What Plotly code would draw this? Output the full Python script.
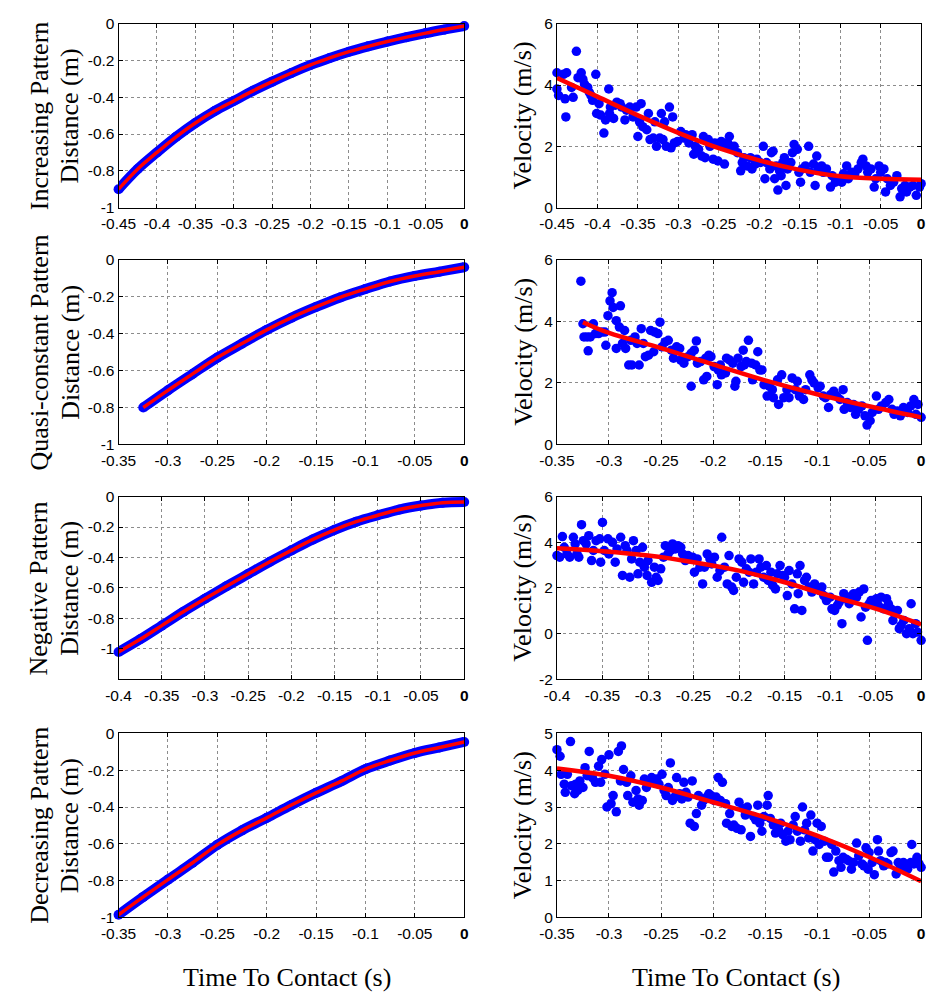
import plotly.graph_objects as go

# ---------------- data ----------------
# Distance curves (time to contact in s, distance in m)
INC_D_T = [-0.45, -0.425, -0.40, -0.375, -0.35, -0.325, -0.30, -0.275, -0.25, -0.225,
           -0.20, -0.175, -0.15, -0.125, -0.10, -0.075, -0.05, -0.025, 0.0]
INC_D = [-0.90, -0.79, -0.70, -0.615, -0.54, -0.475, -0.42, -0.365, -0.315, -0.268,
         -0.224, -0.186, -0.152, -0.123, -0.097, -0.073, -0.051, -0.031, -0.012]

QC_D_T = [-0.325, -0.30, -0.275, -0.25, -0.225, -0.20, -0.175, -0.15, -0.125, -0.10,
          -0.075, -0.05, -0.025, 0.0]
QC_D = [-0.80, -0.707, -0.618, -0.530, -0.454, -0.380, -0.314, -0.256, -0.203, -0.159,
        -0.118, -0.088, -0.065, -0.041]

NEG_D_T = [-0.40, -0.375, -0.35, -0.325, -0.30, -0.275, -0.25, -0.225, -0.20, -0.175,
           -0.15, -0.125, -0.10, -0.075, -0.05, -0.025, 0.0]
NEG_D = [-1.02, -0.937, -0.847, -0.756, -0.671, -0.588, -0.508, -0.428, -0.353, -0.281,
         -0.218, -0.165, -0.123, -0.085, -0.059, -0.040, -0.036]

DEC_D_T = [-0.35, -0.325, -0.30, -0.275, -0.25, -0.225, -0.20, -0.175, -0.15, -0.125,
           -0.10, -0.075, -0.05, -0.025, 0.0]
DEC_D = [-0.986, -0.889, -0.795, -0.703, -0.606, -0.527, -0.459, -0.389, -0.323, -0.261,
         -0.194, -0.147, -0.106, -0.076, -0.046]

# Velocity samples (time to contact in s, velocity in m/s)
INC_V_T = [-0.450, -0.450, -0.448, -0.442, -0.440, -0.438, -0.439, -0.432, -0.430, -0.426,
           -0.424, -0.420, -0.418, -0.416, -0.412, -0.410, -0.408, -0.406, -0.402, -0.401,
           -0.398, -0.396, -0.392, -0.390, -0.386, -0.385, -0.384, -0.380, -0.378, -0.376,
           -0.372, -0.370, -0.366, -0.364, -0.360, -0.356, -0.352, -0.350, -0.348, -0.346,
           -0.344, -0.339, -0.337, -0.335, -0.331, -0.329, -0.327, -0.323, -0.321, -0.319,
           -0.317, -0.315, -0.311, -0.309, -0.307, -0.305, -0.301, -0.297, -0.293, -0.291,
           -0.287, -0.283, -0.281, -0.279, -0.275, -0.271, -0.269, -0.267, -0.263, -0.261,
           -0.257, -0.255, -0.251, -0.249, -0.247, -0.243, -0.241, -0.239, -0.237, -0.233,
           -0.231, -0.227, -0.223, -0.221, -0.219, -0.215, -0.211, -0.209, -0.205, -0.203,
           -0.199, -0.195, -0.193, -0.191, -0.187, -0.185, -0.183, -0.181, -0.179, -0.177,
           -0.175, -0.173, -0.171, -0.169, -0.167, -0.165, -0.161, -0.159, -0.157, -0.153,
           -0.151, -0.149, -0.147, -0.143, -0.139, -0.137, -0.133, -0.131, -0.129, -0.127,
           -0.123, -0.121, -0.117, -0.112, -0.110, -0.106, -0.102, -0.098, -0.096, -0.092,
           -0.090, -0.086, -0.082, -0.078, -0.074, -0.072, -0.068, -0.066, -0.062, -0.058,
           -0.056, -0.052, -0.050, -0.046, -0.044, -0.042, -0.038, -0.034, -0.030, -0.026,
           -0.024, -0.020, -0.018, -0.014, -0.010, -0.006, -0.002, 0.000]
INC_V = [4.40, 3.87, 3.66, 4.35, 3.55, 4.40, 2.96, 3.92, 3.60, 5.10,
         4.24, 4.40, 4.19, 4.03, 3.92, 3.76, 3.66, 3.50, 4.35, 3.07,
         3.39, 3.02, 2.43, 2.86, 3.87, 3.07, 3.28, 2.91, 3.34, 3.44,
         3.39, 3.28, 2.86, 3.18, 3.28, 2.96, 3.28, 2.32, 2.80, 3.39,
         2.64, 2.54, 3.07, 2.22, 2.27, 2.80, 2.00, 2.27, 3.07, 2.22,
         2.80, 2.00, 3.28, 1.95, 2.96, 2.11, 2.16, 2.48, 2.27, 2.38,
         2.11, 2.38, 1.74, 2.00, 1.90, 1.68, 2.32, 1.63, 2.22, 2.00,
         1.58, 2.11, 1.52, 2.06, 2.16, 1.42, 2.00, 2.11, 2.32, 1.90,
         2.00, 1.79, 1.20, 1.47, 1.63, 1.36, 1.63, 1.26, 1.42, 1.58,
         1.47, 2.00, 0.94, 1.47, 1.26, 1.79, 1.84, 0.94, 1.36, 0.57,
         1.20, 1.04, 1.47, 1.63, 0.72, 1.26, 1.47, 1.79, 2.06, 1.90,
         1.15, 0.83, 1.26, 1.36, 2.00, 1.15, 1.42, 0.72, 1.68, 1.26,
         1.36, 1.15, 1.26, 0.67, 1.04, 0.83, 0.94, 0.83, 1.10, 1.36,
         0.94, 1.15, 1.10, 1.26, 1.47, 1.58, 1.36, 1.15, 1.26, 0.67,
         0.94, 1.36, 1.15, 1.26, 0.51, 0.94, 0.72, 0.83, 1.04, 0.35,
         0.62, 0.72, 0.51, 0.67, 0.72, 0.40, 0.67, 0.78]

QC_V_T = [-0.327, -0.325, -0.324, -0.321, -0.320, -0.318, -0.315, -0.313, -0.310, -0.307,
          -0.304, -0.303, -0.301, -0.299, -0.297, -0.296, -0.293, -0.293, -0.289, -0.290,
          -0.287, -0.285, -0.284, -0.281, -0.279, -0.278, -0.275, -0.273, -0.271, -0.269,
          -0.267, -0.265, -0.262, -0.260, -0.257, -0.256, -0.253, -0.251, -0.249, -0.246,
          -0.243, -0.240, -0.238, -0.235, -0.232, -0.231, -0.228, -0.224, -0.221, -0.221,
          -0.218, -0.216, -0.215, -0.212, -0.209, -0.207, -0.206, -0.204, -0.202, -0.199,
          -0.196, -0.195, -0.193, -0.192, -0.188, -0.187, -0.184, -0.181, -0.179, -0.178,
          -0.176, -0.173, -0.171, -0.170, -0.168, -0.166, -0.163, -0.162, -0.159, -0.157,
          -0.155, -0.153, -0.151, -0.148, -0.146, -0.143, -0.142, -0.138, -0.137, -0.134,
          -0.132, -0.129, -0.127, -0.124, -0.121, -0.119, -0.117, -0.113, -0.111, -0.107,
          -0.105, -0.103, -0.099, -0.097, -0.094, -0.092, -0.089, -0.087, -0.084, -0.081,
          -0.078, -0.075, -0.074, -0.071, -0.068, -0.065, -0.063, -0.060, -0.057, -0.054,
          -0.052, -0.049, -0.047, -0.043, -0.041, -0.038, -0.034, -0.031, -0.028, -0.026,
          -0.023, -0.020, -0.017, -0.013, -0.010, -0.007, -0.005, -0.003, 0.000]
QC_V = [5.30, 3.92, 3.49, 3.49, 3.04, 3.49, 3.92, 3.60, 3.60, 3.65,
        3.65, 3.22, 4.18, 4.66, 4.93, 4.45, 4.02, 3.12, 4.50, 3.81,
        3.28, 3.70, 3.12, 2.58, 3.38, 2.58, 3.49, 3.28, 2.58, 3.76,
        3.28, 2.85, 2.90, 3.70, 3.01, 3.65, 3.60, 3.97, 3.17, 3.33,
        3.38, 3.06, 2.80, 3.17, 3.12, 2.74, 2.64, 2.85, 2.96, 1.89,
        3.06, 3.36, 2.64, 2.69, 2.10, 2.80, 2.21, 2.90, 2.85, 2.53,
        1.94, 2.42, 2.58, 2.26, 2.32, 2.80, 2.74, 2.64, 1.89, 2.05,
        2.80, 2.53, 3.06, 2.58, 2.69, 3.38, 2.64, 2.10, 2.58, 3.01,
        2.42, 2.42, 1.94, 1.57, 1.89, 1.78, 1.52, 2.10, 1.30, 2.26,
        1.52, 1.78, 1.52, 2.16, 1.78, 2.05, 1.57, 1.46, 1.78, 2.26,
        2.10, 2.00, 1.84, 1.89, 1.57, 1.52, 1.20, 1.62, 1.73, 1.57,
        1.46, 1.78, 1.14, 1.36, 1.20, 1.30, 0.98, 1.14, 1.25, 0.93,
        0.63, 0.77, 1.04, 1.57, 1.14, 1.25, 1.36, 1.46, 1.14, 0.98,
        1.09, 0.93, 1.20, 1.04, 1.25, 1.46, 0.98, 1.30, 0.88]

NEG_V_T = [-0.401, -0.400, -0.397, -0.394, -0.392, -0.389, -0.386, -0.382, -0.380, -0.378,
           -0.376, -0.373, -0.371, -0.368, -0.365, -0.362, -0.360, -0.357, -0.353, -0.352,
           -0.350, -0.348, -0.344, -0.343, -0.339, -0.336, -0.334, -0.330, -0.328, -0.325,
           -0.323, -0.320, -0.318, -0.316, -0.313, -0.311, -0.309, -0.306, -0.304, -0.301,
           -0.300, -0.296, -0.293, -0.291, -0.289, -0.286, -0.283, -0.281, -0.278, -0.275,
           -0.273, -0.270, -0.267, -0.264, -0.262, -0.259, -0.256, -0.254, -0.251, -0.249,
           -0.246, -0.243, -0.240, -0.238, -0.235, -0.232, -0.230, -0.227, -0.224, -0.221,
           -0.219, -0.216, -0.213, -0.211, -0.208, -0.206, -0.203, -0.200, -0.197, -0.195,
           -0.192, -0.189, -0.187, -0.184, -0.181, -0.178, -0.176, -0.173, -0.170, -0.168,
           -0.165, -0.163, -0.160, -0.158, -0.155, -0.152, -0.150, -0.147, -0.145, -0.142,
           -0.139, -0.136, -0.135, -0.133, -0.131, -0.128, -0.126, -0.123, -0.120, -0.117,
           -0.115, -0.112, -0.109, -0.107, -0.104, -0.100, -0.098, -0.095, -0.092, -0.090,
           -0.087, -0.085, -0.083, -0.079, -0.076, -0.074, -0.071, -0.068, -0.066, -0.063,
           -0.061, -0.059, -0.057, -0.055, -0.052, -0.049, -0.047, -0.044, -0.041, -0.038,
           -0.036, -0.033, -0.031, -0.029, -0.026, -0.024, -0.022, -0.019, -0.016, -0.013,
           -0.011, -0.009, -0.006, -0.004, 0.000]
NEG_V = [4.00, 3.42, 3.35, 4.25, 3.78, 3.49, 3.35, 4.22, 3.93, 3.49,
         3.35, 4.77, 4.07, 3.93, 4.29, 3.20, 3.64, 4.07, 4.15, 3.13,
         4.87, 3.64, 4.15, 3.49, 4.00, 3.13, 3.71, 4.22, 2.55, 3.85,
         3.64, 2.47, 3.27, 4.07, 3.64, 2.62, 3.13, 3.78, 2.91, 2.55,
         3.20, 2.25, 2.91, 2.47, 2.33, 2.84, 3.35, 3.85, 3.49, 3.64,
         3.93, 3.71, 3.85, 3.78, 3.49, 3.20, 3.42, 3.27, 3.35, 2.69,
         3.27, 2.91, 2.18, 2.91, 3.49, 3.27, 3.05, 3.35, 2.47, 2.76,
         4.22, 2.91, 2.18, 3.42, 2.04, 1.89, 2.47, 3.27, 3.13, 2.25,
         2.84, 2.69, 3.27, 2.18, 2.69, 3.27, 2.91, 2.47, 2.98, 2.33,
         2.69, 2.11, 1.96, 2.62, 2.98, 2.55, 2.47, 1.67, 2.76, 2.18,
         1.09, 2.62, 1.75, 2.98, 1.02, 2.33, 2.47, 2.04, 1.82, 2.18,
         2.04, 1.89, 2.04, 1.67, 1.45, 1.60, 1.09, 1.02, 1.24, 1.38,
         0.44, 1.75, 1.53, 1.31, 1.67, 1.75, 1.60, 1.82, 0.73, 1.96,
         1.16, -0.29, 1.31, 1.45, 1.38, 1.53, 1.24, 1.60, 1.09, 1.53,
         1.31, 1.09, 0.58, 0.87, 1.02, 0.22, 0.36, 0.58, 0.00, 0.22,
         1.31, 0.00, 0.44, 0.07, -0.29]

DEC_V_T = [-0.350, -0.347, -0.346, -0.343, -0.342, -0.340, -0.337, -0.336, -0.333, -0.332,
           -0.330, -0.328, -0.325, -0.323, -0.321, -0.319, -0.316, -0.313, -0.310, -0.308,
           -0.307, -0.304, -0.302, -0.300, -0.298, -0.296, -0.293, -0.291, -0.289, -0.288,
           -0.286, -0.283, -0.282, -0.279, -0.277, -0.274, -0.272, -0.271, -0.268, -0.266,
           -0.264, -0.261, -0.259, -0.257, -0.254, -0.252, -0.249, -0.247, -0.245, -0.243,
           -0.241, -0.239, -0.237, -0.235, -0.232, -0.230, -0.228, -0.226, -0.224, -0.222,
           -0.220, -0.218, -0.216, -0.214, -0.211, -0.209, -0.206, -0.204, -0.202, -0.199,
           -0.197, -0.195, -0.193, -0.191, -0.188, -0.187, -0.184, -0.182, -0.180, -0.177,
           -0.175, -0.173, -0.171, -0.169, -0.167, -0.164, -0.161, -0.159, -0.157, -0.155,
           -0.153, -0.151, -0.148, -0.147, -0.145, -0.142, -0.140, -0.137, -0.135, -0.133,
           -0.130, -0.128, -0.126, -0.123, -0.121, -0.119, -0.116, -0.114, -0.112, -0.110,
           -0.108, -0.106, -0.104, -0.102, -0.100, -0.098, -0.096, -0.093, -0.091, -0.089,
           -0.086, -0.084, -0.082, -0.079, -0.077, -0.075, -0.072, -0.070, -0.067, -0.065,
           -0.062, -0.060, -0.057, -0.055, -0.053, -0.051, -0.050, -0.047, -0.045, -0.042,
           -0.041, -0.039, -0.036, -0.034, -0.032, -0.029, -0.027, -0.024, -0.022, -0.020,
           -0.017, -0.015, -0.013, -0.010, -0.009, -0.007, -0.004, -0.002, 0.000]
DEC_V = [4.56, 4.38, 3.89, 3.62, 3.40, 3.89, 4.78, 3.58, 3.36, 3.62,
         3.45, 3.71, 3.53, 4.07, 3.85, 4.51, 3.80, 3.67, 4.11, 3.67,
         4.29, 3.89, 3.00, 4.42, 3.09, 3.31, 2.87, 4.51, 3.71, 4.66,
         4.02, 3.67, 3.31, 3.85, 3.13, 3.45, 3.22, 3.05, 3.18, 3.76,
         3.53, 3.67, 3.80, 3.67, 3.76, 3.62, 3.89, 3.45, 3.31, 3.53,
         4.20, 3.18, 3.27, 3.80, 3.36, 3.22, 3.67, 3.40, 3.27, 2.56,
         3.71, 2.47, 2.82, 3.31, 3.05, 3.18, 3.27, 3.36, 3.31, 3.18,
         3.27, 3.80, 3.18, 3.67, 3.09, 2.56, 2.82, 2.47, 2.51, 2.42,
         3.13, 2.38, 2.96, 2.78, 3.00, 2.20, 2.74, 2.65, 3.05, 2.56,
         2.34, 2.74, 3.05, 3.31, 2.69, 2.51, 2.29, 2.38, 2.56, 2.25,
         2.07, 2.34, 2.11, 2.51, 2.74, 2.34, 2.07, 3.00, 2.38, 2.56,
         2.16, 2.78, 1.80, 2.11, 2.56, 1.98, 2.47, 2.07, 1.63, 1.63,
         1.98, 1.23, 1.80, 1.54, 1.36, 1.63, 1.58, 1.54, 1.31, 1.49,
         2.02, 1.67, 1.45, 1.40, 1.89, 1.31, 1.76, 1.49, 1.16, 2.11,
         1.80, 1.54, 1.40, 1.49, 1.45, 1.76, 1.80, 1.18, 1.49, 1.36,
         1.49, 1.40, 1.31, 1.49, 1.98, 1.45, 1.63, 1.45, 1.36]

# Fitted velocity curves
INC_FIT_T = [-0.45, -0.40, -0.35, -0.30, -0.25, -0.20, -0.15, -0.10, -0.05, 0.0]
INC_FIT_V = [4.23, 3.62, 3.01, 2.44, 1.94, 1.54, 1.23, 1.02, 0.94, 0.91]
QC_FIT_T = [-0.325, -0.30, -0.25, -0.20, -0.15, -0.10, -0.05, 0.0]
QC_FIT_V = [3.97, 3.62, 3.13, 2.60, 2.08, 1.63, 1.24, 0.88]
NEG_FIT_T = [-0.40, -0.35, -0.30, -0.25, -0.20, -0.15, -0.10, -0.05, 0.0]
NEG_FIT_V = [3.74, 3.61, 3.42, 3.13, 2.76, 2.25, 1.65, 1.10, 0.41]
DEC_FIT_T = [-0.35, -0.30, -0.25, -0.20, -0.15, -0.10, -0.05, 0.0]
DEC_FIT_V = [4.05, 3.85, 3.53, 3.13, 2.72, 2.22, 1.64, 0.98]

# Tick values / labels
XT_45 = [-0.45, -0.4, -0.35, -0.3, -0.25, -0.2, -0.15, -0.1, -0.05, 0]
XL_45 = ["-0.45", "-0.4", "-0.35", "-0.3", "-0.25", "-0.2", "-0.15", "-0.1", "-0.05", "<b>0</b>"]
XT_40 = [-0.4, -0.35, -0.3, -0.25, -0.2, -0.15, -0.1, -0.05, 0]
XL_40 = ["-0.4", "-0.35", "-0.3", "-0.25", "-0.2", "-0.15", "-0.1", "-0.05", "<b>0</b>"]
XT_35 = [-0.35, -0.3, -0.25, -0.2, -0.15, -0.1, -0.05, 0]
XL_35 = ["-0.35", "-0.3", "-0.25", "-0.2", "-0.15", "-0.1", "-0.05", "<b>0</b>"]
YT_D = [-1, -0.8, -0.6, -0.4, -0.2, 0]
YL_D = ["-1", "-0.8", "-0.6", "-0.4", "-0.2", "0"]
YT_V6 = [0, 2, 4, 6]
YL_V6 = ["0", "2", "4", "6"]
YT_VN = [-2, 0, 2, 4, 6]
YL_VN = ["-2", "0", "2", "4", "6"]
YT_V5 = [0, 1, 2, 3, 4, 5]
YL_V5 = ["0", "1", "2", "3", "4", "5"]

ROW_LABELS = ["Increasing Pattern", "Quasi-constant Pattern", "Negative Pattern", "Decreasing Pattern"]
DIST_LABEL = "Distance (m)"
VEL_LABEL = "Velocity (m/s)"
X_LABEL = "Time To Contact (s)"

# ---------------- layout geometry (pixels) ----------------
W, H = 931, 1000
LEFT_X = (103, 457)
RIGHT_X = (552, 925)
ROWS_Y = [(15, 202), (255, 443), (496, 682), (737, 924)]

BLUE = "#0000FF"
RED = "#FF0000"
TICK_FONT = dict(family="Liberation Sans, Arial, sans-serif", size=15.5, color="black")
TITLE_FONT = dict(family="Liberation Serif, Times New Roman, serif", size=26, color="black")

panels = [
    # (kind, t, y, fit_t, fit_y, xr, xt, xl, yr, yt, yl)
    ("d", INC_D_T, INC_D, None, None, [-0.45, 0], XT_45, XL_45, [-1, 0], YT_D, YL_D),
    ("v", INC_V_T, INC_V, INC_FIT_T, INC_FIT_V, [-0.45, 0], XT_45, XL_45, [0, 6], YT_V6, YL_V6),
    ("d", QC_D_T, QC_D, None, None, [-0.35, 0], XT_35, XL_35, [-1, 0], YT_D, YL_D),
    ("v", QC_V_T, QC_V, QC_FIT_T, QC_FIT_V, [-0.35, 0], XT_35, XL_35, [0, 6], YT_V6, YL_V6),
    ("d", NEG_D_T, NEG_D, None, None, [-0.4, 0], XT_40, XL_40, [-1.2, 0], YT_D, YL_D),
    ("v", NEG_V_T, NEG_V, NEG_FIT_T, NEG_FIT_V, [-0.4, 0], XT_40, XL_40, [-2, 6], YT_VN, YL_VN),
    ("d", DEC_D_T, DEC_D, None, None, [-0.35, 0], XT_35, XL_35, [-1, 0], YT_D, YL_D),
    ("v", DEC_V_T, DEC_V, DEC_FIT_T, DEC_FIT_V, [-0.35, 0], XT_35, XL_35, [0, 5], YT_V5, YL_V5),
]

fig = go.Figure()
layout = dict(
    width=W, height=H,
    margin=dict(l=0, r=0, t=0, b=0),
    paper_bgcolor="white", plot_bgcolor="white",
    showlegend=False,
    annotations=[],
)

for i, (kind, t, y, ft, fy, xr, xt, xl, yr, yt, yl) in enumerate(panels):
    k = i + 1
    row = i // 2
    col = i % 2
    xs = LEFT_X if col == 0 else RIGHT_X
    ys = ROWS_Y[row]
    xa = "x" if k == 1 else f"x{k}"
    ya = "y" if k == 1 else f"y{k}"
    common = dict(
        showline=True, linecolor="black", linewidth=1, mirror="ticks",
        ticks="inside", ticklen=4, tickcolor="black", tickwidth=1,
        showgrid=True, gridcolor="#8c8c8c", gridwidth=1, griddash="dot",
        zeroline=False, tickfont=TICK_FONT, tickmode="array", fixedrange=True,
    )
    layout["xaxis" if k == 1 else f"xaxis{k}"] = dict(
        common, domain=[xs[0] / W, xs[1] / W], range=xr, tickvals=xt, ticktext=xl,
        anchor=ya, ticklabelstandoff=2,
    )
    layout["yaxis" if k == 1 else f"yaxis{k}"] = dict(
        common, domain=[1 - ys[1] / H, 1 - ys[0] / H], range=yr, tickvals=yt, ticktext=yl,
        anchor=xa,
    )
    if kind == "d":
        fig.add_trace(go.Scatter(x=t, y=y, xaxis=xa, yaxis=ya, mode="lines+markers",
                                 line=dict(color=BLUE, width=10, shape="spline"),
                                 marker=dict(color=BLUE, size=10), cliponaxis=False))
        fig.add_trace(go.Scatter(x=t, y=y, xaxis=xa, yaxis=ya, mode="lines",
                                 line=dict(color=RED, width=3.5, shape="spline")))
    else:
        fig.add_trace(go.Scatter(x=t, y=y, xaxis=xa, yaxis=ya, mode="markers",
                                 marker=dict(color=BLUE, size=9.5), cliponaxis=False))
        fig.add_trace(go.Scatter(x=ft, y=fy, xaxis=xa, yaxis=ya, mode="lines",
                                 line=dict(color=RED, width=4.5, shape="spline")))

# y-axis titles as annotations
for row, (y0, y1) in enumerate(ROWS_Y):
    yc = 1 - (y0 + y1) / 2 / H
    layout["annotations"].append(dict(
        text=ROW_LABELS[row], x=22 / W, y=yc, xref="paper", yref="paper",
        textangle=-90, showarrow=False, font=TITLE_FONT, xanchor="center", yanchor="middle"))
    layout["annotations"].append(dict(
        text=DIST_LABEL, x=53 / W, y=yc, xref="paper", yref="paper",
        textangle=-90, showarrow=False, font=TITLE_FONT, xanchor="center", yanchor="middle"))
    layout["annotations"].append(dict(
        text=VEL_LABEL, x=517 / W, y=yc, xref="paper", yref="paper",
        textangle=-90, showarrow=False, font=TITLE_FONT, xanchor="center", yanchor="middle"))

# x-axis titles
for xc in (275, 735):
    layout["annotations"].append(dict(
        text=X_LABEL, x=xc / W, y=1 - 985 / H, xref="paper", yref="paper",
        showarrow=False, font=TITLE_FONT, xanchor="center", yanchor="middle"))

fig.update_layout(**layout)
fig.write_html("out.html")
